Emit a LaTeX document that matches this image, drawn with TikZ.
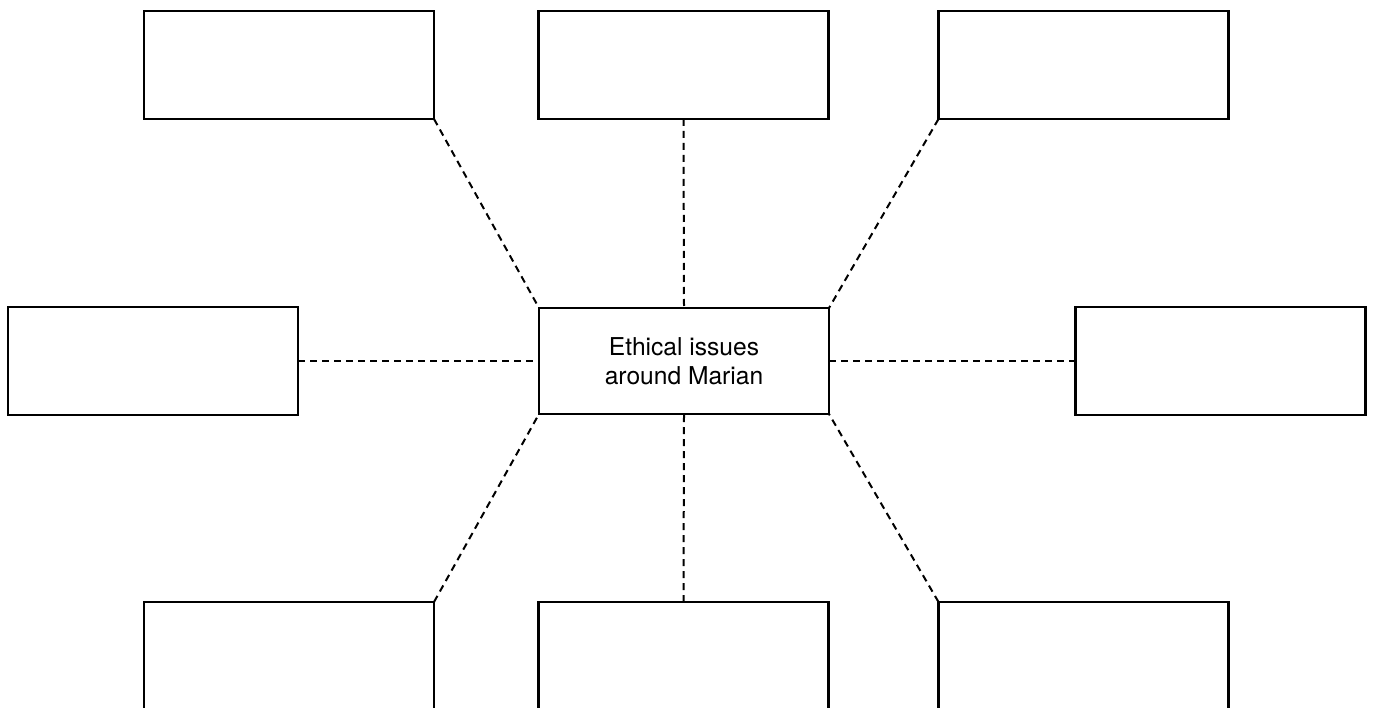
\documentclass[tikz,border=0pt]{standalone}
\usepackage{fontspec}
\setmainfont{TeX Gyre Heros}
\begin{document}
\begin{tikzpicture}[x=1pt,y=-1pt,
  boxnode/.style={draw=black, line width=2.4pt, rectangle, minimum width=290pt, minimum height=108pt, inner sep=0pt, outer sep=0pt, fill=white},
  centernode/.style={boxnode, minimum height=106pt, align=center, font=\fontsize{24.6}{29}\selectfont},
  link/.style={draw=black, line width=2pt, dash pattern=on 7pt off 5pt}]
\useasboundingbox (0,0) rectangle (1375,708);
\clip (0,0) rectangle (1375,708);
\node[boxnode] (tl) at (289,65) {};
\node[boxnode] (tm) at (683.5,65) {};
\node[boxnode] (tr) at (1083.5,65) {};
\node[boxnode] (l) at (153,361) {};
\node[centernode] (c) at (684,361) {Ethical issues\\around Marian};
\node[boxnode] (r) at (1220.5,361) {};
\node[boxnode] (bl) at (289,656) {};
\node[boxnode] (bm) at (683.5,656) {};
\node[boxnode] (br) at (1083.5,656) {};
\draw[link] (tl.south east) -- (c.north west);
\draw[link] (tm.south) -- (c.north);
\draw[link] (tr.south west) -- (c.north east);
\draw[link] (l.east) -- (c.west);
\draw[link] (c.east) -- (r.west);
\draw[link] (bl.north east) -- (c.south west);
\draw[link] (bm.north) -- (c.south);
\draw[link] (br.north west) -- (c.south east);
\end{tikzpicture}
\end{document}
